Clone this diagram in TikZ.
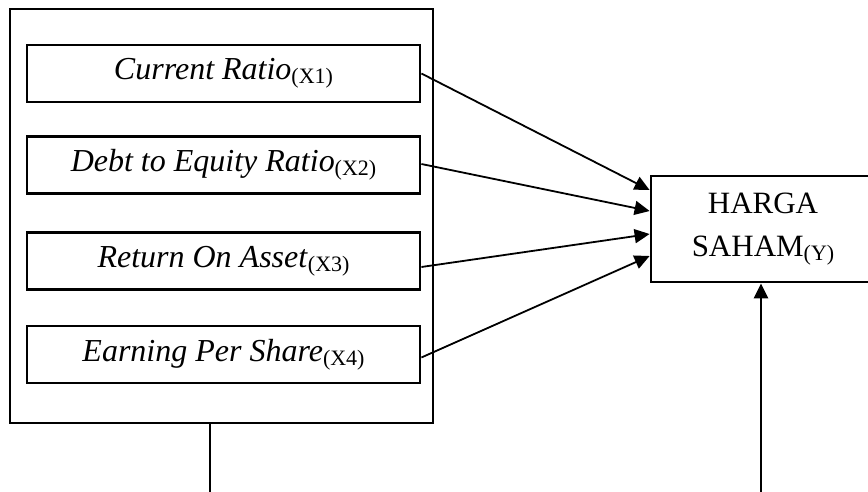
\documentclass[tikz,border=0pt]{standalone}
\usepackage{fontspec}
\setmainfont{Liberation Serif}
\usetikzlibrary{arrows.meta}

% upright, lowered index after a variable name
\newcommand\varidx[1]{\raisebox{-2pt}{\fontsize{11}{12}\selectfont #1}}

\tikzset{
  varbox/.style={draw, line width=1.4pt, minimum width=196.5pt, minimum height=28.5pt,
    inner sep=0pt, font=\fontsize{16}{18}\selectfont},
  groupbox/.style={draw, line width=1.4pt, minimum width=211.5pt, minimum height=207pt, inner sep=0pt},
  targetbox/.style={draw, line width=1.4pt, minimum width=112pt, minimum height=53pt,
    inner sep=0pt, align=center, font=\fontsize{15.5}{21.5}\selectfont},
  link/.style={line width=0.9pt, -{Triangle[length=7.5pt,width=7pt]}},
  plainlink/.style={line width=1.2pt},
}

\begin{document}
\begin{tikzpicture}[x=0.5pt,y=-0.5pt]
  \clip (0,0) rectangle (868,492);

  % enclosing frame of the independent variables
  \node[groupbox] (grp) at (221.5,216) {};

  % independent variables
  \node[varbox] (x1) at (223.5,73.5) {\textit{Current Ratio}\varidx{(X1)}};
  \node[varbox] (x2) at (223.5,165)  {\textit{Debt to Equity Ratio}\varidx{(X2)}};
  \node[varbox] (x3) at (223.5,261)  {\textit{Return On Asset}\varidx{(X3)}};
  \node[varbox] (x4) at (223.5,354.5){\textit{Earning Per Share}\varidx{(X4)}};

  % dependent variable
  \node[targetbox] (y) at (763,229) {HARGA\\SAHAM\varidx{(Y)}};

  % partial effects
  \draw[link] (x1.east) -- ([yshift=19.5pt]y.west);
  \draw[link] ([yshift=0.5pt]x2.east) -- ([yshift=9pt]y.west);
  \draw[link] ([yshift=-3pt]x3.east) -- ([yshift=-2.5pt]y.west);
  \draw[link] ([yshift=-1.5pt]x4.east) -- ([yshift=-13.5pt]y.west);

  % simultaneous effect
  \coordinate (gfoot) at (210,492);
  \coordinate (yfoot) at (761,492);
  \draw[plainlink] (grp.south -| gfoot) -- (gfoot);
  \draw[plainlink, -{Triangle[length=7.5pt,width=7pt]}] (yfoot) -- (yfoot |- y.south);
\end{tikzpicture}
\end{document}
